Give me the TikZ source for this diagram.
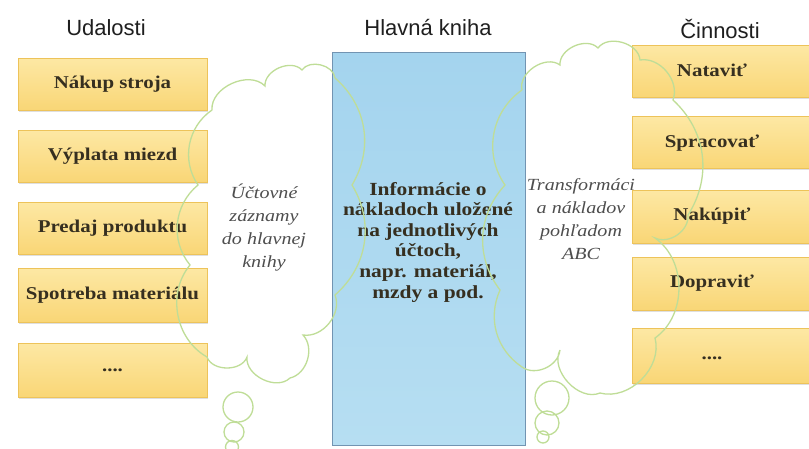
\documentclass[tikz,border=0pt]{standalone}
\usepackage{fontspec}
\setmainfont{Liberation Serif}
\newfontfamily\hdfont{Liberation Sans}
\newfontfamily\bxfont[FakeStretch=1.16]{Liberation Serif}
\newfontfamily\ctfont[FakeStretch=1.18]{Liberation Serif}
\usetikzlibrary{shadows}
\definecolor{boxtop}{HTML}{FDE8A4}
\definecolor{boxbot}{HTML}{F9D676}
\definecolor{boxline}{HTML}{EDC35A}
\definecolor{bluetop}{HTML}{A4D4EE}
\definecolor{bluebot}{HTML}{B6DEF2}
\definecolor{blueline}{HTML}{7294B2}
\definecolor{cloudgreen}{HTML}{BFDD97}
\definecolor{boxtext}{HTML}{362F20}
\definecolor{cloudtext}{HTML}{4E4E4E}
\tikzset{
  ybox/.style={rectangle, draw=boxline, line width=0.8pt, top color=boxtop, bottom color=boxbot,
    drop shadow={opacity=0.25, shadow xshift=1.2pt, shadow yshift=-1.8pt},
    minimum height=52pt, inner sep=0pt},
  lbox/.style={ybox, minimum width=189pt, text=boxtext, font=\bxfont\bfseries\fontsize{18}{20}\selectfont},
  rbox/.style={ybox, minimum width=185pt},
  btext/.style={text=boxtext, font=\bxfont\bfseries\fontsize{18}{20}\selectfont, inner sep=0pt},
  header/.style={font=\hdfont\fontsize{22}{24}\selectfont, text=black!88, inner sep=0pt},
  cloudline/.style={draw=cloudgreen, line width=1.3pt},
  ctext/.style={align=center, text=cloudtext, font=\ctfont\itshape\fontsize{17}{23}\selectfont, inner sep=0pt}
}
\begin{document}
\begin{tikzpicture}[x=1pt,y=-1pt]
\useasboundingbox (0,0) rectangle (809,448);
\clip (0,0) rectangle (809,448);
\fill[white] (0,0) rectangle (809,448);

% headers
\node[header] (h1) at (106,28) {Udalosti};
\node[header] (h2) at (428,28) {Hlavná kniha};
\node[header] (h3) at (720,29) {Činnosti};

% left boxes
\node[lbox] (l1) at (112.5,84) {Nákup stroja};
\node[lbox] (l2) at (112.5,156) {Výplata miezd};
\node[lbox] (l3) at (112.5,228) {Predaj produktu};
\node[lbox, minimum height=54pt] (l4) at (112.5,295) {Spotreba materiálu};
\node[lbox, minimum height=54pt] (l5) at (112.5,370) {....};

% right boxes
\node[rbox] (r1) at (724.5,71) {};
\node[rbox] (r2) at (724.5,142.5) {};
\node[rbox, minimum height=53pt] (r3) at (724.5,216.5) {};
\node[rbox, minimum height=53pt] (r4) at (724.5,283.5) {};
\node[rbox, minimum height=55pt] (r5) at (724.5,355.5) {};
\node[btext] (rt1) at (712,70) {Nataviť};
\node[btext] (rt2) at (712,143) {Spracovať};
\node[btext] (rt3) at (712,216) {Nakúpiť};
\node[btext] (rt4) at (712,283) {Dopraviť};
\node[btext] (rt5) at (712,358) {....};

% ledger
\node[rectangle, draw=blueline, line width=0.9pt, top color=bluetop, bottom color=bluebot,
      minimum width=193pt, minimum height=393pt, inner sep=0pt] (ledger) at (428.5,248.5) {};
\node[align=center, text=boxtext, font=\bxfont\bfseries\fontsize{18.5}{20.6}\selectfont, inner sep=0pt]
  (ledgertext) at (428,242) {Informácie o\\nákladoch uložené\\na jednotlivých\\účtoch,\\napr. materiál,\\mzdy a pod.};

% left cloud
\draw[cloudline]
  (212,110) to[bend left=70] (265,86) to[bend left=70] (302,70) to[bend left=70] (335,78)
  to[bend left=40] (352,185) to[bend left=40] (335,295) to[bend left=60] (303,335)
  to[bend left=60] (290,378) to[bend left=70] (247,357) to[bend left=70] (207,357)
  to[bend left=50] (190,265) to[bend left=45] (198,185) to[bend left=45] (212,110);
\draw[cloudline] (238,407) circle[radius=15];
\draw[cloudline] (234,432) circle[radius=10];
\draw[cloudline] (232,447) circle[radius=6.5];

% right cloud
\draw[cloudline]
  (522,90) to[bend left=70] (560,65) to[bend left=70] (598,48) to[bend left=70] (640,60)
  to[bend left=60] (673,100) to[bend left=40] (688,215) to[bend left=60] (655,238)
  to[bend left=55] (655,338) to[bend left=60] (600,393) to[bend left=70] (560,350)
  to[bend left=60] (522,367) to[bend left=40] (500,290) to[bend left=40] (505,185)
  to[bend left=45] (522,90);
\draw[cloudline] (552,398) circle[radius=17];
\draw[cloudline] (547,423) circle[radius=12];
\draw[cloudline] (543,437) circle[radius=6];

% cloud texts
\node[ctext] (c1) at (264,228) {Účtovné\\záznamy\\do hlavnej\\knihy};
\node[ctext] (c2) at (581,219) {Transformáci\\a nákladov\\pohľadom\\ABC};
\end{tikzpicture}
\end{document}
